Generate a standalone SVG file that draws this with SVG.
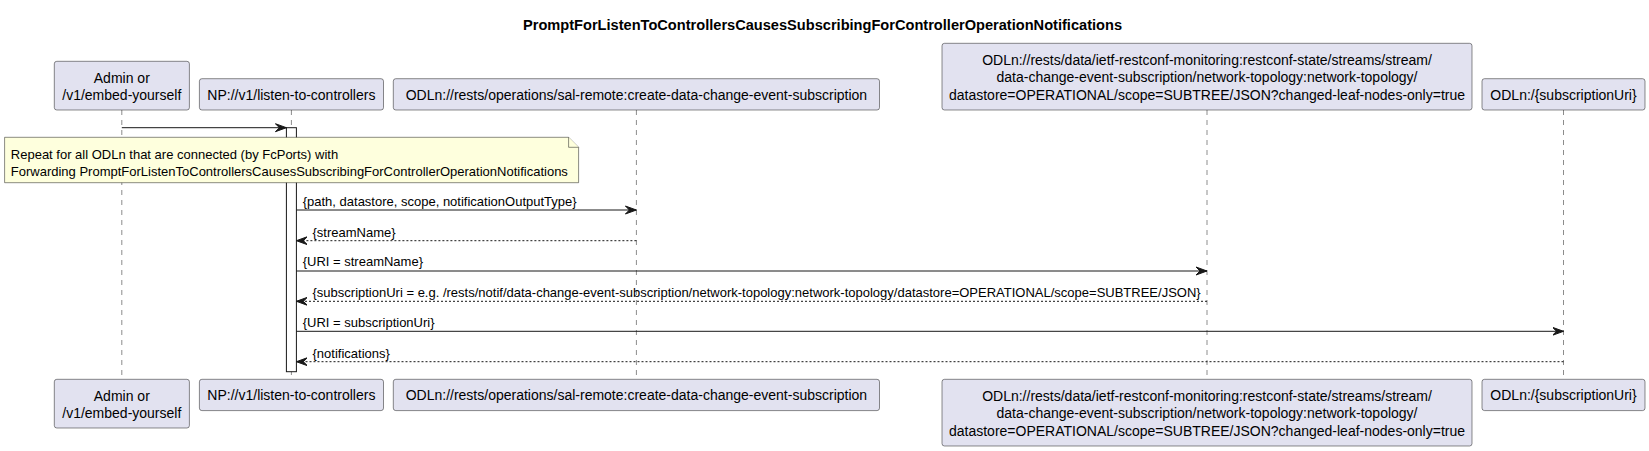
<svg xmlns="http://www.w3.org/2000/svg" width="1649" height="451" viewBox="0 0 1649 451">
<style>
text{font-family:"Liberation Sans",Arial,sans-serif;fill:#000}
.title{font-size:14px;font-weight:bold}
.pt{font-size:14px}
.ml{font-size:13px}
.nt{font-size:13px}
.box{fill:#E2E2F0;stroke:#181818;stroke-width:0.5}
.life{stroke:#181818;stroke-width:0.5;stroke-dasharray:5,5;fill:none}
.act{fill:#FFFFFF;stroke:#181818;stroke-width:1}
.msg{stroke:#181818;stroke-width:1;fill:none}
.ret{stroke:#181818;stroke-width:1;fill:none;stroke-dasharray:2,2}
.note{fill:#FEFFDD;stroke:#181818;stroke-width:0.5}
</style>
<defs>
<marker id="ah" markerWidth="13" markerHeight="10" refX="11" refY="5" orient="auto" markerUnits="userSpaceOnUse">
<polygon points="0,1 11,5 0,9 4,5" fill="#181818" stroke="#181818" stroke-width="1"/>
</marker>
</defs>
<text class="title" x="523" y="30" textLength="599" lengthAdjust="spacingAndGlyphs">PromptForListenToControllersCausesSubscribingForControllerOperationNotifications</text>

<g id="lifelines">
<line class="life" x1="121.8" y1="110" x2="121.8" y2="379.3"/>
<line class="life" x1="291.4" y1="110" x2="291.4" y2="379.3"/>
<line class="life" x1="636.4" y1="110" x2="636.4" y2="379.3"/>
<line class="life" x1="1207" y1="110" x2="1207" y2="379.3"/>
<line class="life" x1="1563.5" y1="110" x2="1563.5" y2="379.3"/>
</g>

<g id="p-admin">
<rect class="box" x="54.3" y="61.3" width="135.1" height="48.7" rx="2.5"/>
<text class="pt" x="121.8" y="82.5" text-anchor="middle">Admin or</text>
<text class="pt" x="121.8" y="99.8" text-anchor="middle">/v1/embed-yourself</text>
<rect class="box" x="54.3" y="379.3" width="135.1" height="48.7" rx="2.5"/>
<text class="pt" x="121.8" y="400.5" text-anchor="middle">Admin or</text>
<text class="pt" x="121.8" y="417.8" text-anchor="middle">/v1/embed-yourself</text>
</g>

<g id="p-np">
<rect class="box" x="199.4" y="78.7" width="184.1" height="31.3" rx="2.5"/>
<text class="pt" x="291.4" y="99.5" text-anchor="middle">NP://v1/listen-to-controllers</text>
<rect class="box" x="199.4" y="379.3" width="184.1" height="31.3" rx="2.5"/>
<text class="pt" x="291.4" y="400.1" text-anchor="middle">NP://v1/listen-to-controllers</text>
</g>

<g id="p-ops">
<rect class="box" x="393.3" y="78.7" width="486.2" height="31.3" rx="2.5"/>
<text class="pt" x="636.4" y="99.5" text-anchor="middle">ODLn://rests/operations/sal-remote:create-data-change-event-subscription</text>
<rect class="box" x="393.3" y="379.3" width="486.2" height="31.3" rx="2.5"/>
<text class="pt" x="636.4" y="400.1" text-anchor="middle">ODLn://rests/operations/sal-remote:create-data-change-event-subscription</text>
</g>

<g id="p-stream">
<rect class="box" x="942" y="43.3" width="530" height="66.7" rx="2.5"/>
<text class="pt" x="1207" y="65" text-anchor="middle">ODLn://rests/data/ietf-restconf-monitoring:restconf-state/streams/stream/</text>
<text class="pt" x="1207" y="82.3" text-anchor="middle">data-change-event-subscription/network-topology:network-topology/</text>
<text class="pt" x="1207" y="99.6" text-anchor="middle">datastore=OPERATIONAL/scope=SUBTREE/JSON?changed-leaf-nodes-only=true</text>
<rect class="box" x="942" y="379.3" width="530" height="66.7" rx="2.5"/>
<text class="pt" x="1207" y="401" text-anchor="middle">ODLn://rests/data/ietf-restconf-monitoring:restconf-state/streams/stream/</text>
<text class="pt" x="1207" y="418.3" text-anchor="middle">data-change-event-subscription/network-topology:network-topology/</text>
<text class="pt" x="1207" y="435.6" text-anchor="middle">datastore=OPERATIONAL/scope=SUBTREE/JSON?changed-leaf-nodes-only=true</text>
</g>

<g id="p-sub">
<rect class="box" x="1482" y="78.7" width="163" height="31.3" rx="2.5"/>
<text class="pt" x="1563.5" y="99.5" text-anchor="middle">ODLn:/{subscriptionUri}</text>
<rect class="box" x="1482" y="379.3" width="163" height="31.3" rx="2.5"/>
<text class="pt" x="1563.5" y="400.1" text-anchor="middle">ODLn:/{subscriptionUri}</text>
</g>

<g id="activation">
<rect class="act" x="286.4" y="127.7" width="10" height="244"/>
</g>

<g id="connectors">
<line class="msg" x1="121.8" y1="127.7" x2="286.4" y2="127.7" marker-end="url(#ah)"/>
<line class="msg" x1="296.4" y1="210" x2="636.4" y2="210" marker-end="url(#ah)"/>
<text class="ml" x="302.7" y="205.5">{path, datastore, scope, notificationOutputType}</text>
<line class="ret" x1="636.4" y1="240.7" x2="296.4" y2="240.7" marker-end="url(#ah)"/>
<text class="ml" x="312.5" y="236.5">{streamName}</text>
<line class="msg" x1="296.4" y1="271" x2="1207" y2="271" marker-end="url(#ah)"/>
<text class="ml" x="302.7" y="266.3">{URI = streamName}</text>
<line class="ret" x1="1207" y1="301.3" x2="296.4" y2="301.3" marker-end="url(#ah)"/>
<text class="ml" x="312.5" y="296.5">{subscriptionUri = e.g. /rests/notif/data-change-event-subscription/network-topology:network-topology/datastore=OPERATIONAL/scope=SUBTREE/JSON}</text>
<line class="msg" x1="296.4" y1="331.3" x2="1563.5" y2="331.3" marker-end="url(#ah)"/>
<text class="ml" x="302.7" y="326.8">{URI = subscriptionUri}</text>
<line class="ret" x1="1563.5" y1="361.7" x2="296.4" y2="361.7" marker-end="url(#ah)"/>
<text class="ml" x="312.5" y="357.5">{notifications}</text>
</g>

<g id="note">
<path class="note" d="M4.6,137.3 L568.6,137.3 L578.6,147.3 L578.6,182.7 L4.6,182.7 Z"/>
<path class="note" d="M568.6,137.3 L568.6,147.3 L578.6,147.3"/>
<text class="nt" x="10.8" y="158.5">Repeat for all ODLn that are connected (by FcPorts) with</text>
<text class="nt" x="10.8" y="175.5">Forwarding PromptForListenToControllersCausesSubscribingForControllerOperationNotifications</text>
</g>
</svg>
